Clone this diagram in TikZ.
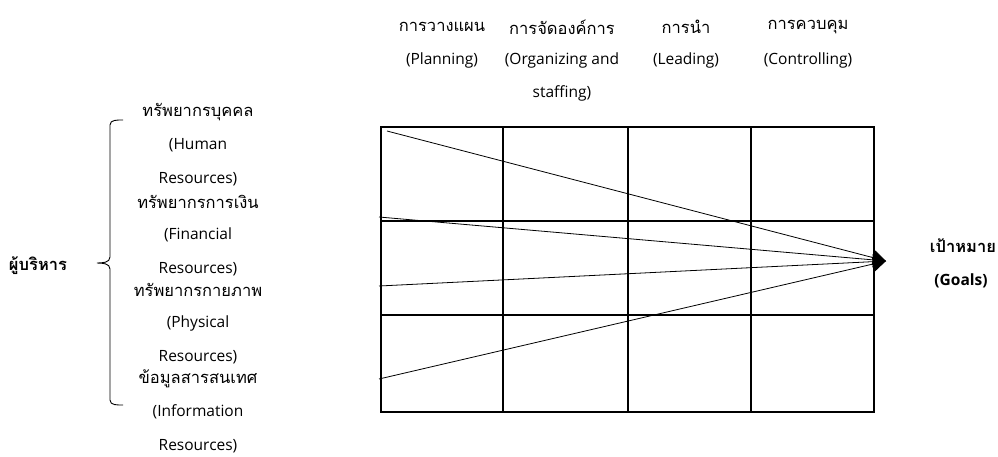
\documentclass[tikz,border=0pt]{standalone}
\usepackage{fontspec}
\setmainfont{Open Sans}
\newfontfamily\thaifont[Script=Thai]{Loma}
\usetikzlibrary{arrows.meta}

\begin{document}
\begin{tikzpicture}[x=1pt,y=-1pt,
  en/.style={inner sep=0pt, text=black, font=\fontsize{15.5}{17}\selectfont},
  th/.style={inner sep=0pt, text=black, font=\thaifont\fontsize{16.5}{18}\selectfont},
  thb/.style={inner sep=0pt, text=black, font=\thaifont\bfseries\fontsize{16.5}{18}\selectfont},
  enb/.style={inner sep=0pt, text=black, font=\bfseries\fontsize{15.5}{17}\selectfont},
  gridline/.style={line width=1.3pt},
  goalarrow/.style={-{Triangle[length=13pt,width=15pt]}, line width=0.8pt}]
  \useasboundingbox (0,0) rectangle (998,456);

  % functions
  \node[th] (plan th) at (442,27) {การวางแผน};
  \node[en] (plan en) at (442,60) {(Planning)};
  \node[th] (org th) at (562,27) {การจัดองค์การ};
  \node[en] (org en) at (562,60) {(Organizing and};
  \node[en] (org en2) at (562,93) {staffing)};
  \node[th] (lead th) at (686,27) {การนำ};
  \node[en] (lead en) at (686,60) {(Leading)};
  \node[th] (ctrl th) at (808,27) {การควบคุม};
  \node[en] (ctrl en) at (808,60) {(Controlling)};

  % grid
  \draw[gridline] (381,127) rectangle (874,412);
  \foreach \gx in {503,628,751}
    \draw[gridline] (\gx,127) -- (\gx,412);
  \foreach \gy in {221,315}
    \draw[gridline] (381,\gy) -- (874,\gy);

  % manager and resources
  \node[thb] (mgr) at (38,266) {ผู้บริหาร};
  \draw[line width=0.9pt] (123,120) to[out=180,in=90] (110,125) -- (110,257)
    to[out=-90,in=0] (97,263) to[out=0,in=90] (110,269) -- (110,400)
    to[out=-90,in=180] (123,405);
  \foreach \ry/\rth/\ren/\rname in {112/ทรัพยากรบุคคล/Human/hum,
      202/ทรัพยากรการเงิน/Financial/fin,
      290/ทรัพยากรกายภาพ/Physical/phy,
      379/ข้อมูลสารสนเทศ/Information/inf}{
    \node[th] (\rname th) at (198,\ry) {\rth};
    \node[en] (\rname en) at (198,\ry+33) {(\ren};
    \node[en] (\rname res) at (198,\ry+67) {Resources)};
  }

  % goals
  \node[thb] (goal th) at (963,246) {เป้าหมาย};
  \node[enb] (goal en) at (961,281) {(Goals)};
  \coordinate (goal) at (886,261);
  \coordinate (s1) at (387,131);
  \coordinate (s2) at (379,217);
  \coordinate (s3) at (379,286);
  \coordinate (s4) at (379,379);
  \foreach \s in {s1,s2,s3,s4}
    \draw[goalarrow] (\s) -- (goal);
\end{tikzpicture}
\end{document}
